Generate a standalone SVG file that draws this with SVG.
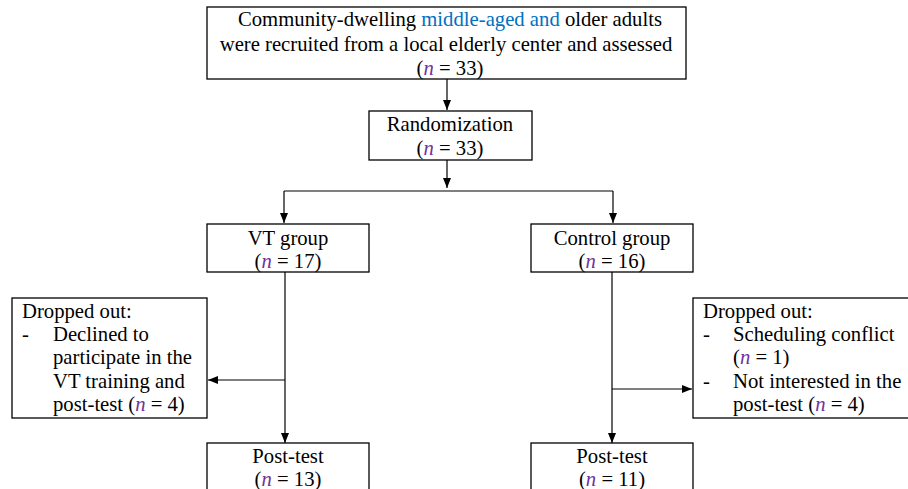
<svg xmlns="http://www.w3.org/2000/svg" width="908" height="489" viewBox="0 0 908 489">
<defs>
<marker id="ah" markerWidth="10" markerHeight="8" refX="10" refY="4" orient="auto" markerUnits="userSpaceOnUse">
<path d="M0,0 L10,4 L0,8 Z" fill="#000"/>
</marker>
<style>
.box{fill:#fff;stroke:#000;stroke-width:1.3}
.c{text-anchor:middle}
.n{font-style:italic;fill:#7030A0}
.b{fill:#0070C0}
.ln{fill:none;stroke:#000;stroke-width:1.2}
.ar{fill:none;stroke:#000;stroke-width:1.2;marker-end:url(#ah)}
</style>
</defs>
<rect width="908" height="489" fill="#fff"/>
<g id="connectors">
<line class="ar" x1="447" y1="79" x2="447" y2="110"/>
<line class="ar" x1="447" y1="160" x2="447" y2="188"/>
<polyline class="ln" points="284,191 613,191"/>
<line class="ar" x1="284" y1="191" x2="284" y2="223"/>
<line class="ar" x1="613" y1="191" x2="613" y2="223"/>
<line class="ar" x1="285" y1="272" x2="285" y2="443"/>
<line class="ar" x1="285" y1="380" x2="208" y2="380"/>
<line class="ar" x1="612" y1="272" x2="612" y2="443"/>
<line class="ar" x1="612" y1="389" x2="692" y2="389"/>
</g>
<g font-family="'Liberation Serif', 'Times New Roman', 'DejaVu Serif', serif" font-size="20.7" fill="#000">
<g id="recruit">
<rect class="box" x="207" y="7" width="479" height="72"/>
<text class="c" x="450" y="26">Community-dwelling <tspan class="b">middle-aged and</tspan> older adults</text>
<text class="c" x="446" y="51">were recruited from a local elderly center and assessed</text>
<text class="c" x="450" y="75">(<tspan class="n">n</tspan> = 33)</text>
</g>
<g id="randomization">
<rect class="box" x="369" y="111" width="163" height="49"/>
<text class="c" x="450" y="131">Randomization</text>
<text class="c" x="450" y="155">(<tspan class="n">n</tspan> = 33)</text>
</g>
<g id="vt">
<rect class="box" x="207" y="224" width="162" height="48"/>
<text class="c" x="288" y="245">VT group</text>
<text class="c" x="288" y="268">(<tspan class="n">n</tspan> = 17)</text>
</g>
<g id="control">
<rect class="box" x="531" y="224" width="162" height="48"/>
<text class="c" x="612" y="245">Control group</text>
<text class="c" x="612" y="268">(<tspan class="n">n</tspan> = 16)</text>
</g>
<g id="drop-vt">
<rect class="box" x="12" y="298" width="195" height="120"/>
<text x="22" y="318">Dropped out:</text>
<text x="22" y="341">-</text>
<text x="53" y="341">Declined to</text>
<text x="53" y="364">participate in the</text>
<text x="53" y="388">VT training and</text>
<text x="53" y="411">post-test (<tspan class="n">n</tspan> = 4)</text>
</g>
<g id="drop-control">
<rect class="box" x="693" y="298" width="220" height="120"/>
<text x="703" y="318">Dropped out:</text>
<text x="703" y="341">-</text>
<text x="733" y="341">Scheduling conflict</text>
<text x="733" y="364">(<tspan class="n">n</tspan> = 1)</text>
<text x="703" y="388">-</text>
<text x="733" y="388">Not interested in the</text>
<text x="733" y="411">post-test (<tspan class="n">n</tspan> = 4)</text>
</g>
<g id="post-vt">
<rect class="box" x="207" y="443" width="162" height="60"/>
<text class="c" x="288" y="463">Post-test</text>
<text class="c" x="288" y="486">(<tspan class="n">n</tspan> = 13)</text>
</g>
<g id="post-control">
<rect class="box" x="531" y="443" width="162" height="60"/>
<text class="c" x="612" y="463">Post-test</text>
<text class="c" x="612" y="486">(<tspan class="n">n</tspan> = 11)</text>
</g>
</g>
</svg>
